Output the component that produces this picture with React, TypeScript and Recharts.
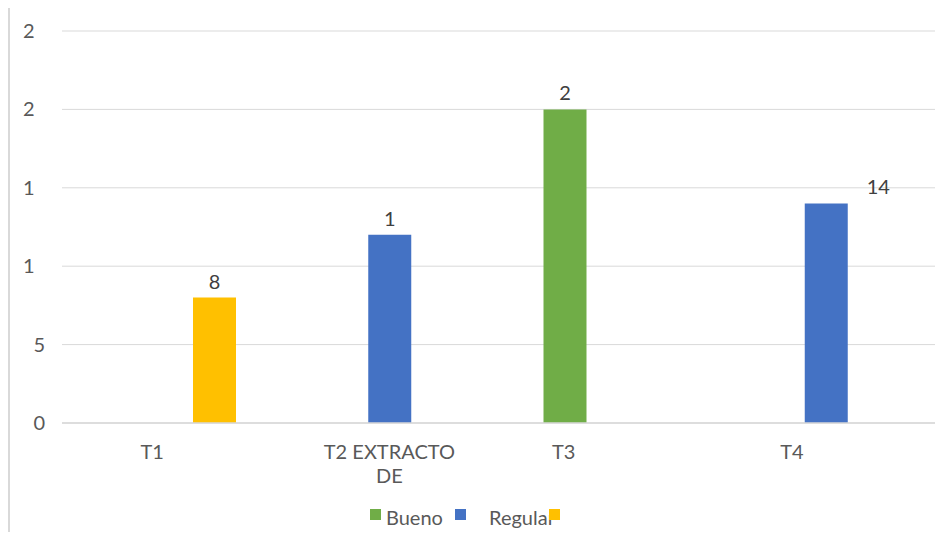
import React from 'react';
import { BarChart, Bar, XAxis, YAxis, CartesianGrid, Legend, LabelList } from 'recharts';

const categories = ['T1', 'T2 EXTRACTO DE', 'T3', 'T4'];
const categoryLines = [['T1'], ['T2 EXTRACTO', 'DE'], ['T3'], ['T4']];
const buenoValues = [null, null, 20, null];
const regularValues = [null, 12, null, 14];
const thirdValues = [8, null, null, null];
const buenoLabels = ['', '', '2', ''];
const regularLabels = ['', '1', '', '14'];
const thirdLabels = ['8', '', '', ''];
const yTicks = [0, 5, 10, 15, 20, 25];
const yTickLabels = ['0', '5', '1', '1', '2', '2'];
const seriesNames = ['Bueno', 'Regular', ''];

const GREEN = '#70AD47';
const BLUE = '#4472C4';
const YELLOW = '#FFC000';
const FONT = 'Lato, "Open Sans", sans-serif';

const data = categories.map((name, i) => ({
  name,
  bueno: buenoValues[i],
  regular: regularValues[i],
  third: thirdValues[i],
}));

const X_TICK_SHIFT = [-19, 0, -44, -34];

const XTick = (props: any) => {
  const { x, y, index } = props;
  const lines = categoryLines[index] || [];
  const cx = x + (X_TICK_SHIFT[index] || 0);
  return (
    <g>
      {lines.map((l, k) => (
        <text key={k} x={cx} y={y + 36 + k * 24} textAnchor="middle" fontFamily={FONT} fontSize={20} fill="#595959">
          {l}
        </text>
      ))}
    </g>
  );
};

const YTick = (props: any) => {
  const { x, y, payload } = props;
  const idx = yTicks.indexOf(payload.value);
  const full = String(payload.value);
  return (
    <text x={x - full.length * 10.5} y={y} dy="0.35em" textAnchor="start" fontFamily={FONT} fontSize={20} fill="#595959">
      {yTickLabels[idx]}
    </text>
  );
};

// value passed to the label is the category name; the text is looked up by category
const makeLabel = (texts: string[], shifts: number[]) => (props: any) => {
  const { x, y, width, value } = props;
  const i = categories.indexOf(value);
  const t = texts[i];
  if (!t) return null;
  return (
    <text x={x + width / 2 + (shifts[i] || 0)} y={y - 9} textAnchor="middle" fontFamily={FONT} fontSize={20} fill="#404040">
      {t}
    </text>
  );
};

const catKey = (d: any) => d.name;

const LegendContent = () => (
  <div style={{ position: 'relative', width: 200, height: 26, fontFamily: FONT, fontSize: 20, lineHeight: '21px', color: '#595959' }}>
    <span style={{ position: 'absolute', left: 0, top: 2, width: 11, height: 11, background: GREEN }} />
    <span style={{ position: 'absolute', left: 16, top: 0, whiteSpace: 'nowrap' }}>{seriesNames[0]}</span>
    <span style={{ position: 'absolute', left: 85, top: 2, width: 11, height: 11, background: BLUE }} />
    <span style={{ position: 'absolute', left: 119, top: 0, whiteSpace: 'nowrap' }}>{seriesNames[1]}</span>
    <span style={{ position: 'absolute', left: 179, top: 2, width: 11, height: 11, background: YELLOW }} />
  </div>
);

export default function App() {
  return (
    <div
      style={{
        marginTop: -3,
        marginBottom: -8,
        width: 938,
        height: 535,
        boxSizing: 'border-box',
        borderTop: '2px solid #d9d9d9',
        borderLeft: '2px solid #d9d9d9',
        overflow: 'hidden',
        background: '#fff',
      }}
    >
      <BarChart
        width={926}
        height={528}
        data={data}
        margin={{ top: 24, right: 1, left: 0, bottom: 26 }}
        barSize={43}
        barGap={0}
      >
        <CartesianGrid vertical={false} stroke="#d9d9d9" strokeWidth={1} />
        <XAxis
          dataKey="name"
          axisLine={{ stroke: '#d9d9d9', strokeWidth: 1.5 }}
          tickLine={false}
          tickSize={0}
          tickMargin={0}
          height={60}
          interval={0}
          tick={<XTick />}
        />
        <YAxis
          domain={[0, 25]}
          ticks={yTicks}
          width={52}
          axisLine={false}
          tickLine={false}
          tickSize={0}
          tickMargin={18}
          tick={<YTick />}
        />
        <Legend
          verticalAlign="bottom"
          content={<LegendContent />}
          wrapperStyle={{ position: 'absolute', top: 500, left: 360, bottom: 'auto', width: 200, height: 26 }}
        />
        <Bar dataKey="bueno" name={seriesNames[0]} fill={GREEN} isAnimationActive={false}>
          <LabelList dataKey={catKey} content={makeLabel(buenoLabels, [0, 0, 0, 0])} />
        </Bar>
        <Bar dataKey="regular" name={seriesNames[1]} fill={BLUE} isAnimationActive={false}>
          <LabelList dataKey={catKey} content={makeLabel(regularLabels, [0, 0, 0, 52])} />
        </Bar>
        <Bar dataKey="third" name="Serie 3" fill={YELLOW} isAnimationActive={false}>
          <LabelList dataKey={catKey} content={makeLabel(thirdLabels, [0, 0, 0, 0])} />
        </Bar>
      </BarChart>
    </div>
  );
}
